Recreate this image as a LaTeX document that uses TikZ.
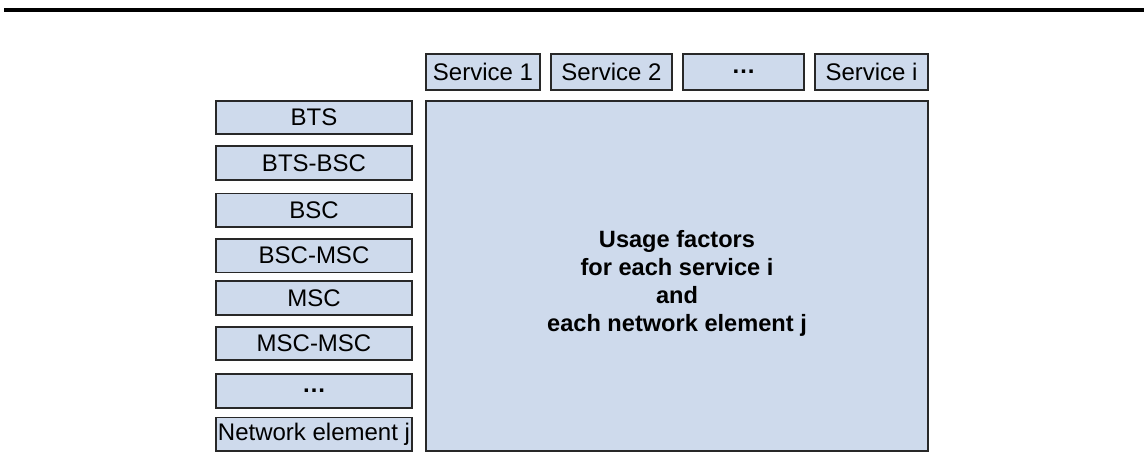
\documentclass[tikz,border=0pt]{standalone}
\usepackage{fontspec}
\setmainfont{Liberation Sans}
\usepackage{xcolor}
\usepackage{tikz}
\usetikzlibrary{positioning}
\definecolor{elfill}{RGB}{206,218,236}
\definecolor{eldraw}{RGB}{40,40,40}

\begin{document}
\begin{tikzpicture}[
  x=0.5pt, y=-0.5pt,
  every node/.style={font=\fontsize{12}{13}\selectfont},
  elem/.style={rectangle, draw=eldraw, fill=elfill, line width=0.9pt,
               minimum width=98.1pt, minimum height=16.8pt, inner sep=0pt,
               align=center},
  serv/.style={rectangle, draw=eldraw, fill=elfill, line width=0.9pt,
               minimum height=18.1pt, inner sep=0pt, align=center},
  matrixbox/.style={rectangle, draw=eldraw, fill=elfill, line width=0.9pt,
                    minimum width=251.1pt, minimum height=175.1pt},
  usagetext/.style={font=\bfseries\fontsize{11.8}{14}\selectfont, align=center},
]
\useasboundingbox (0,0) rectangle (1144,462);

% ── Header rule ──
\draw[line width=1.6pt] (4,10) -- (1144,10);

% ── Network elements ──
\node[elem] (bts) at (314,117.5) {BTS};
\node[elem, below=5pt of bts]    (btsbsc) {BTS-BSC};
\node[elem, below=6pt of btsbsc] (bsc)    {BSC};
\node[elem, below=5pt of bsc]    (bscmsc) {BSC-MSC};
\node[elem, below=3.5pt of bscmsc] (msc)  {MSC};
\node[elem, below=5pt of msc]    (mscmsc) {MSC-MSC};
\node[elem, below=6pt of mscmsc] (edots)  {\textbf{\dots}};
\node[elem, below=4pt of edots]  (nej)    {Network element j};

% ── Services ──
\node[serv, minimum width=57.1pt] (s1) at (483,72) {Service 1};
\node[serv, minimum width=60.6pt, right=4.5pt of s1] (s2) {Service 2};
\node[serv, minimum width=60.6pt, right=4.5pt of s2] (sdots) {\textbf{\dots}};
\node[serv, minimum width=56.6pt, right=4.5pt of sdots] (si) {Service i};

% ── Usage factor matrix ──
\node[matrixbox] (usage) at (677,276) {};
\node[usagetext] (usagelbl) at ([yshift=-3.5pt]usage.center)
  {Usage factors\\ for each service i\\ and\\ each network element j};

\end{tikzpicture}
\end{document}
